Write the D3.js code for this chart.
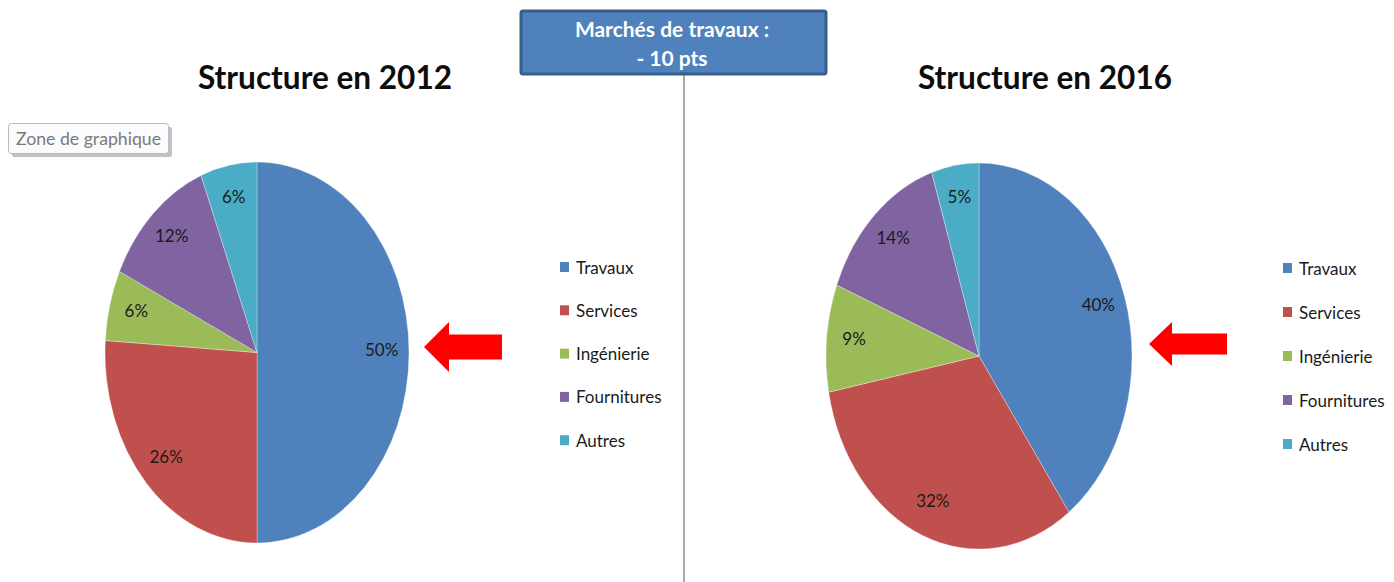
<!DOCTYPE html>
<html><head><meta charset="utf-8">
<script src="https://cdn.jsdelivr.net/npm/d3@7"></script>
<style>
html,body{margin:0;padding:0;background:#fff;}
svg{display:block;font-family:Lato, "Open Sans", sans-serif;}
</style></head>
<body>
<svg id="c" width="1394" height="582"></svg>
<script>
const categories = ["Travaux", "Services", "Ingénierie", "Fournitures", "Autres"];
const values2012 = [50, 26, 6, 12, 6];
const values2016 = [40, 32, 9, 14, 5];
const colors = ["#4F81BD", "#C0504D", "#9BBB59", "#8064A2", "#4BACC6"];
const titles = ["Structure en 2012", "Structure en 2016"];
const boxLines = ["Marchés de travaux :", "- 10 pts"];
const tooltipText = "Zone de graphique";

const svg = d3.select("#c");

// separator line
svg.append("line").attr("x1",684).attr("x2",684).attr("y1",70).attr("y2",582)
  .attr("stroke","#8c8c8c").attr("stroke-width",1.5);

// header box
svg.append("rect").attr("x",521).attr("y",11).attr("width",305).attr("height",63).attr("rx",2)
  .attr("fill","#4F81BD").attr("stroke","#385D8A").attr("stroke-width",3);
svg.selectAll("text.box").data(boxLines).join("text").attr("class","box")
  .attr("x",672).attr("y",(d,i)=>37+i*29).attr("text-anchor","middle")
  .attr("fill","#fff").attr("font-weight","bold").attr("font-size",21).text(d=>d);

// tooltip
const tt = svg.append("g");
tt.append("rect").attr("x",12).attr("y",127).attr("width",160).attr("height",30).attr("rx",2)
  .attr("fill","#9a9a9a").attr("opacity",0.6);
tt.append("rect").attr("x",8.5).attr("y",123.5).attr("width",160).attr("height",30).attr("rx",3)
  .attr("fill","#fbfbfd").attr("stroke","#b9b9c0");
tt.append("text").attr("x",16).attr("y",145).attr("font-size",17).attr("fill","#7a7a7a")
  .attr("font-family","Lato, sans-serif").attr("font-weight","normal")
  .attr("textLength",145).attr("lengthAdjust","spacingAndGlyphs").text(tooltipText);

const charts = [
  {vals: values2012, cx: 257, cy: 352.5, rx: 152, ry: 190.5, title: titles[0], tx: 325, legX: 560, legY: 267, legStep: 43.3,
   arrow: {tip: 424, y: 347, headBack: 449, headHalf: 25, shaftHalf: 12.5, end: 502}},
  {vals: values2016, cx: 979, cy: 356, rx: 153, ry: 193, title: titles[1], tx: 1045, legX: 1283, legY: 268, legStep: 44,
   arrow: {tip: 1149, y: 344, headBack: 1172, headHalf: 22, shaftHalf: 10.5, end: 1227}}
];

const pie = d3.pie().sort(null).value(d=>d);

charts.forEach(c => {
  const arcs = pie(c.vals);
  const arc = d3.arc().innerRadius(0).outerRadius(c.ry);
  const g = svg.append("g").attr("transform",`translate(${c.cx},${c.cy}) scale(${c.rx/c.ry},1)`);
  g.selectAll("path").data(arcs).join("path")
    .attr("d",arc).attr("fill",(d,i)=>colors[i])
    .attr("stroke","#ffffff").attr("stroke-opacity",0.35).attr("stroke-width",1);
  const lab = d3.arc().innerRadius(c.ry*0.82).outerRadius(c.ry*0.82);
  svg.selectAll(null).data(arcs).join("text")
    .attr("x",d=>c.cx + lab.centroid(d)[0]*c.rx/c.ry)
    .attr("y",d=>c.cy + lab.centroid(d)[1] - 3)
    .attr("text-anchor","middle").attr("dominant-baseline","central")
    .attr("font-size",17).attr("fill","#1a1a1a").text(d=>d.data+"%");

  svg.append("text").attr("x",c.tx).attr("y",89).attr("text-anchor","middle")
    .attr("font-size",32).attr("font-weight","bold").attr("fill","#0d0d0d")
    .attr("textLength",254).attr("lengthAdjust","spacingAndGlyphs").text(c.title);

  const lg = svg.append("g");
  categories.forEach((cat,i)=>{
    const y = c.legY + i*c.legStep;
    lg.append("rect").attr("x",c.legX).attr("y",y-5).attr("width",9).attr("height",10).attr("fill",colors[i]);
    lg.append("text").attr("x",c.legX+16).attr("y",y).attr("dominant-baseline","central")
      .attr("font-size",17).attr("fill","#1a1a1a").text(cat);
  });

  const a = c.arrow;
  const pts = [[a.tip,a.y],[a.headBack,a.y-a.headHalf],[a.headBack,a.y-a.shaftHalf],[a.end,a.y-a.shaftHalf],
               [a.end,a.y+a.shaftHalf],[a.headBack,a.y+a.shaftHalf],[a.headBack,a.y+a.headHalf]];
  svg.append("polygon").attr("points",pts.map(p=>p.join(",")).join(" ")).attr("fill","#FF0000");
});
</script>
</body></html>
